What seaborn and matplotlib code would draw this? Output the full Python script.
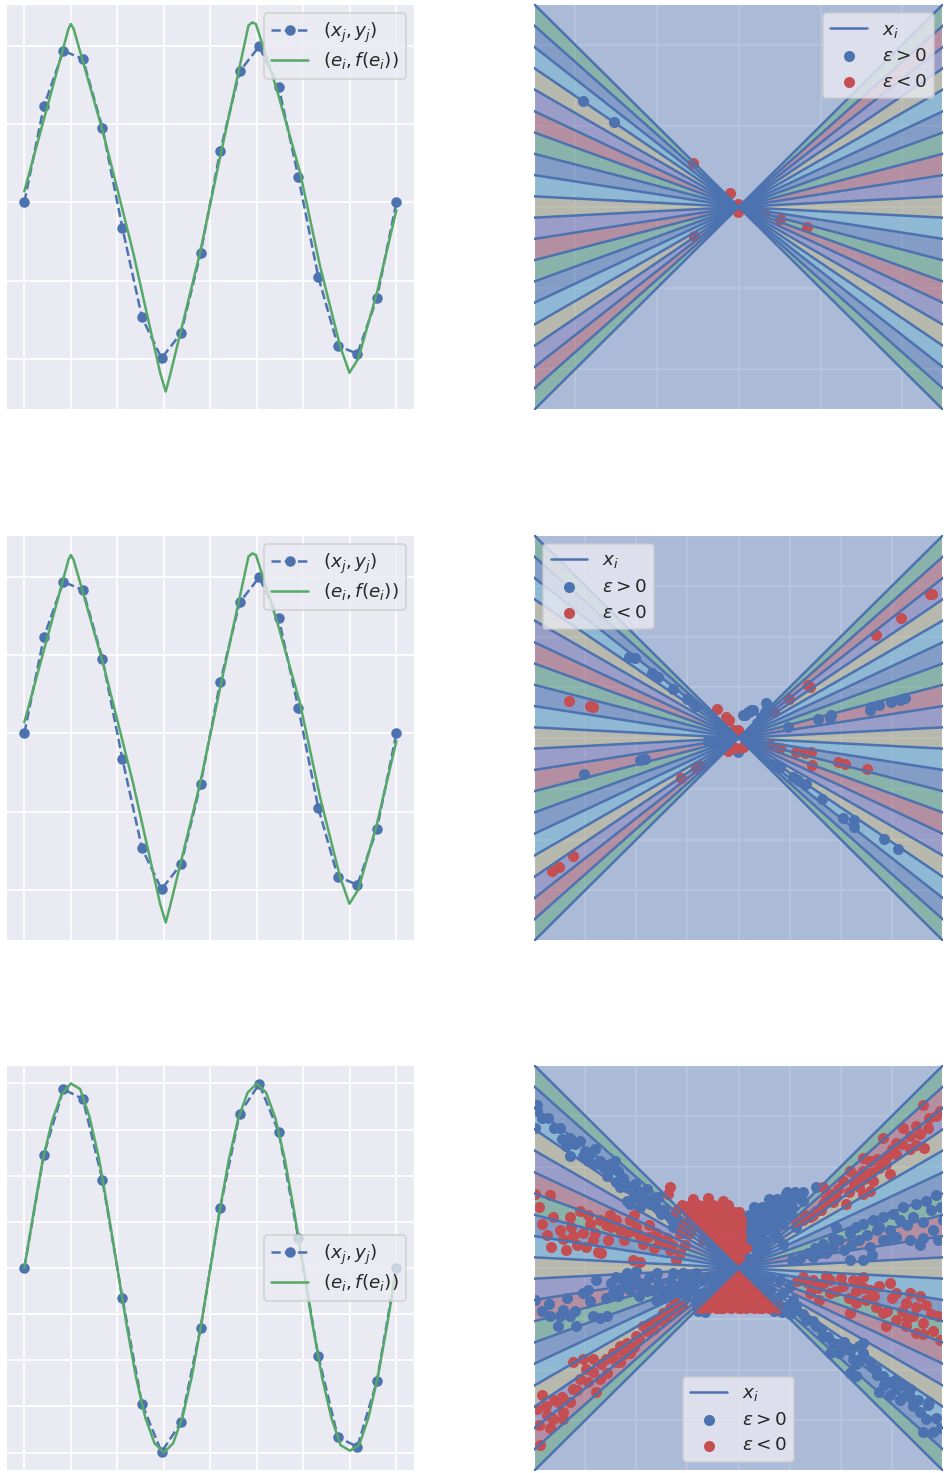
import matplotlib
matplotlib.use("Agg")
import numpy as np
import pandas as pd
import matplotlib.pyplot as plt
import seaborn as sns

sns.set_theme(style="darkgrid", context="notebook")
pal = sns.color_palette("deep6")
BLUE, GREEN, RED = pal[0], pal[1], pal[2]

# ---------------- data -----------------
# training samples (x_j, y_j)
x_samples = [0.00, 0.42, 0.84, 1.26, 1.68, 2.11, 2.53, 2.95, 3.37, 3.79,
             4.21, 4.63, 5.05, 5.47, 5.89, 6.32, 6.74, 7.16, 7.58, 8.00]
y_samples = [0.000, 0.614, 0.969, 0.916, 0.476, -0.165, -0.736, -0.997, -0.837, -0.325,
             0.325, 0.837, 0.997, 0.736, 0.165, -0.476, -0.916, -0.969, -0.614, 0.000]

# network output for the small networks (rows 1 and 2)
e_coarse = [0.00, 0.95, 1.00, 1.06, 1.70, 2.34, 2.92, 3.04, 3.13, 3.78, 4.21,
            4.82, 4.90, 4.98, 5.43, 5.93, 6.36, 6.79, 6.99, 7.18, 7.58, 8.00]
f_coarse = [0.07, 1.11, 1.14, 1.11, 0.44, -0.32, -1.09, -1.21, -1.11, -0.32, 0.29,
            1.13, 1.15, 1.14, 0.72, 0.19, -0.41, -0.92, -1.09, -1.00, -0.58, -0.05]

# network output for the wide network (row 3)
e_fine = [0.0, 0.2, 0.4, 0.6, 0.8, 1.0, 1.2, 1.4, 1.6, 1.8, 2.0, 2.2, 2.4, 2.6, 2.8,
          3.0, 3.2, 3.4, 3.6, 3.8, 4.0, 4.2, 4.4, 4.6, 4.8, 5.0, 5.2, 5.4, 5.6, 5.8,
          6.0, 6.2, 6.4, 6.6, 6.8, 7.0, 7.2, 7.4, 7.6, 7.8, 8.0]
f_fine = [0.00, 0.30, 0.59, 0.80, 0.94, 1.00, 0.97, 0.82, 0.60, 0.31, 0.00, -0.31,
          -0.59, -0.81, -0.95, -1.00, -0.95, -0.81, -0.59, -0.31, 0.00, 0.31, 0.59,
          0.81, 0.95, 1.00, 0.95, 0.81, 0.59, 0.31, 0.00, -0.31, -0.59, -0.81, -0.96,
          -0.99, -0.96, -0.81, -0.59, -0.31, 0.00]

# neuron parameters (w, b), split by sign of the output weight
pos1_w = [-1.90, -1.52]
pos1_b = [1.31, 1.05]
neg1_w = [-0.56, -0.10, -0.01, -0.01, -0.55, 0.31, 0.50, 0.83]
neg1_b = [0.54, 0.17, 0.04, -0.06, -0.36, -0.08, -0.15, -0.25]

pos2_w = [-2.14, -2.03, -1.69, -1.58, -1.28, -1.01, -0.89, -0.83, -1.93, -1.84, -3.03,
          0.54, 0.21, 0.28, 0.12, 0.96, 1.55, 1.78, 1.81, 2.56, 2.59, 2.75, 2.97, 3.16, 3.26,
          0.67, 0.80, 1.06, 1.16, 1.32, 1.63, 2.04, 2.25, 2.25, 2.85, 3.11,
          0.08, 0.18, 0.25, 0.51, 0.44, 0.35, -0.01, -0.53, -0.60, 0.77]
pos2_b = [1.60, 1.58, 1.28, 1.20, 0.97, 0.76, 0.68, 0.63, -0.44, -0.42, -0.71,
          0.68, 0.51, 0.55, 0.45, 0.22, 0.37, 0.40, 0.45, 0.55, 0.61, 0.66, 0.70, 0.74, 0.79,
          -0.53, -0.57, -0.77, -0.82, -0.91, -1.21, -1.57, -1.62, -1.75, -1.99, -2.19,
          0.45, 0.51, 0.55, 0.51, 0.42, 0.29, -0.27, -0.10, -0.05, -0.57]
neg2_w = [-3.32, -2.91, -2.85, -0.42, -0.24, -0.18, -1.12, -0.83, -0.76, -3.24, -3.51, -3.64,
          3.74, 3.78, 3.18, 2.69, 1.35, 1.39, 0.98, 0.70, 0.80, 0.61, 1.13, 1.29, 1.42,
          1.44, 1.94, 2.07, 2.51, 0.08, -0.11, -0.01, 0.02, -0.18, -0.05, 0.08, 0.15, -0.21]
neg2_b = [0.72, 0.63, 0.61, 0.57, 0.42, 0.35, -0.79, -0.59, -0.55, -2.33, -2.55, -2.63,
          2.83, 2.84, 2.37, 2.03, 1.04, 1.00, 0.76, 0.51, -0.20, -0.14, -0.27, -0.29, -0.27,
          -0.53, -0.47, -0.51, -0.61, -0.17, 0.16, 0.16, 0.08, -0.18, -0.20, -0.18, -0.10, -0.25]

# wide network: arms of the bow-tie
pos3_w = [-3.95, -3.72, -3.98, -3.95, -3.37, -3.11, -3.01, -2.94, -2.81, -2.71, -2.52, -2.36,
          -2.58, -2.32, -2.19, -2.03, -1.93, -1.80, -1.74, -1.58, -1.61, -1.51, -1.35, -1.22,
          -1.28, -1.09, -1.93, -2.13, -3.30, -3.50, -2.42, -2.26, -2.00,
          -3.98, -3.69, -3.53, -3.43, -3.17, -3.04, -2.94, -2.78, -2.71, -2.58, -2.39, -2.26,
          -2.13, -2.00, -1.84, -1.67, -1.61, -1.48, -1.35, -1.28, -1.15, -1.02, -0.96, -0.83,
          -0.70, -0.63, -3.30, -2.45, -2.19, -1.93, -1.09, -0.83,
          0.21, 0.41, 0.54, 0.67, 0.87, 0.93, 1.13, 1.00, 0.80, 0.61, 0.48, 0.35, 0.15, 0.28,
          0.48, 0.67, 0.87, 1.06, 0.74, 0.54, 0.35, 0.15, 1.52, 1.26, 1.13, 0.87,
          -1.28, -1.09, -0.89, -0.70, -0.57, -0.83, -1.02, -1.15, -0.70, -0.50, -0.37, -0.57,
          0.61, 0.80, 1.00, 0.87, 1.06, 0.74, 0.93, 1.13, 0.61, 0.48,
          3.86, 3.67, 3.47, 3.21, 3.01, 2.82, 2.62, 2.43, 2.95, 3.08, 3.34, 3.54, 3.80, 2.82,
          2.56, 2.36, 2.17, 1.97, 1.84, 1.65, 1.58, 1.45, 2.43, 2.17, 3.41, 3.99, 2.75, 1.91,
          1.13, 1.32, 1.52, 1.65, 1.84, 1.97, 2.10, 2.23, 2.36, 2.43, 2.56, 2.69, 2.82, 2.95,
          3.08, 3.27, 3.41, 3.54, 3.67, 3.80, 3.60, 2.17, 2.30, 2.75, 2.95, 3.34, 2.43, 1.78, 3.73]
pos3_b = [3.09, 2.96, 2.76, 3.22, 2.40, 2.50, 2.30, 2.11, 2.34, 2.11, 2.04, 1.91,
          1.82, 1.59, 1.33, 1.65, 1.49, 1.56, 1.26, 1.39, 1.20, 1.07, 1.00, 0.94,
          0.81, 0.68, 1.20, 1.26, 2.57, 2.76, 2.11, 1.78, 1.39,
          -0.63, -0.95, -1.15, -0.82, -1.15, -0.49, -0.43, -0.23, -0.98, -0.95, -0.17, -0.23,
          -0.43, -0.23, -0.30, -0.43, -0.63, -0.49, -0.43, -0.63, -0.49, -0.36, -0.17, -0.10,
          -0.76, -0.49, -0.95, -0.49, -0.10, -0.36, -0.10, -0.49,
          0.87, 1.00, 1.13, 1.20, 1.33, 1.46, 1.46, 1.20, 1.07, 0.94, 0.81, 0.68, 0.55, 0.42,
          0.55, 0.74, 0.87, 1.00, 0.61, 0.35, 0.22, 0.22, 1.59, 1.33, 0.81, 0.48,
          -0.10, -0.23, -0.36, -0.49, -0.63, -0.69, -0.56, -0.43, -0.23, -0.36, -0.49, -0.17,
          -0.17, -0.23, -0.36, -0.49, -0.63, -0.63, -0.76, -0.82, -0.43, -0.30,
          1.43, 1.33, 1.26, 1.20, 1.07, 1.00, 0.94, 0.87, 0.74, 0.61, 0.55, 0.45, 0.74, 0.55,
          0.42, 0.55, 0.68, 0.55, 0.42, 0.48, 0.29, 0.22, 0.16, 0.16, 1.00, 0.94, 0.81, 0.81,
          -0.76, -1.02, -1.15, -1.34, -1.47, -1.67, -1.60, -1.80, -1.54, -1.67, -1.86, -1.99,
          -2.12, -2.25, -2.38, -2.51, -2.71, -2.84, -2.97, -3.23, -3.23, -2.06, -2.12, -2.45,
          -2.51, -2.38, -1.47, -1.67, -2.64]
neg3_w = [-3.98, -3.69, -3.85, -3.63, -3.37, -3.66, -3.43, -3.24, -3.11, -2.91, -2.81, -2.98,
          -2.75, -2.52, -2.49, -2.32, -2.13, -2.00, -1.87, -1.77, -2.06, -1.93, -1.61, -1.48,
          -1.35, -1.22, -1.35, -1.38, -3.27, -3.04, -2.71,
          -3.95, -3.85, -3.76, -3.63, -3.53, -3.43, -3.24, -3.11, -3.04, -3.24, -2.98, -2.85,
          -2.71, -2.58, -2.45, -2.32, -2.19, -2.13, -2.00, -1.87, -1.74, -1.61, -1.48, -1.35,
          -1.22, -3.89, -3.69, -3.43, -2.78, -2.32,
          -1.22, -1.02, -0.83, -0.70, -0.53, -0.44, -0.24, -0.11, -0.96, -0.76, -0.57, -0.37,
          -0.18, -0.44, -0.24, -0.05, -0.70, -0.89, -0.18, -0.05, 0.02, -0.18, -0.31, -0.53,
          -1.09, -1.15, -0.96, -0.70, -0.44, -0.11,
          -0.57, -0.37, -0.18, 0.02, 0.21, 0.41, 0.61, -0.44, -0.24, -0.05, 0.15, 0.35, 0.54,
          -0.31, -0.11, 0.08, 0.28, -0.18, 0.02, 0.18, -0.01, -0.70, 0.74,
          2.82, 3.08, 3.47, 3.63, 3.34, 3.73, 3.93, 3.47, 2.43, 2.56, 2.75, 2.88, 2.17, 2.30,
          2.04, 1.78, 1.91, 2.10, 1.65, 1.52, 1.39, 1.26, 2.36, 2.43, 2.62, 2.56, 1.65, 3.21,
          3.08, 2.43, 3.60,
          1.26, 1.45, 1.65, 1.78, 2.04, 2.23, 2.36, 2.56, 2.75, 2.95, 3.08, 3.27, 3.47, 3.67,
          3.41, 3.60, 2.82, 2.69, 2.49, 2.30, 2.17, 2.88, 3.08, 3.27, 3.47, 1.78, 1.58, 1.39,
          3.93, 2.43]
neg3_b = [1.46, 1.43, 0.87, 1.00, 0.35, 0.42, 0.58, 0.64, 1.13, 0.87, 0.68, 0.42,
          0.32, 1.04, 0.81, 0.74, 0.94, 0.81, 0.48, 0.61, 0.16, 0.12, 0.68, 0.48,
          0.35, 0.16, 1.59, 1.46, 0.81, 0.68, 0.94,
          -2.77, -2.51, -2.71, -2.97, -2.64, -2.84, -2.38, -2.19, -1.80, -1.86, -1.99, -1.80,
          -2.19, -2.06, -1.67, -1.86, -1.47, -1.67, -1.34, -1.15, -1.08, -1.02, -0.89, -0.79,
          -0.69, -3.49, -3.16, -2.97, -2.45, -1.54,
          1.13, 1.17, 1.20, 1.10, 1.13, 1.00, 0.94, 0.81, 1.00, 0.94, 0.87, 0.81,
          0.68, 0.61, 0.48, 0.42, 0.74, 0.81, 1.00, 0.22, 0.16, 0.16, 0.29, 0.42,
          0.87, 0.68, 0.68, 0.55, 0.22, 0.03,
          -0.76, -0.79, -0.76, -0.79, -0.76, -0.79, -0.76, -0.56, -0.59, -0.56, -0.59, -0.56, -0.53,
          -0.36, -0.40, -0.36, -0.36, -0.17, -0.20, -0.17, -0.04, -0.72, -0.72,
          2.57, 2.47, 2.43, 2.37, 2.34, 2.96, 3.09, 2.79, 2.17, 2.11, 1.98, 2.04, 1.91, 1.82,
          1.72, 1.46, 1.39, 1.26, 1.26, 1.13, 1.00, 0.94, 1.59, 1.46, 1.72, 1.52, 1.59, 2.76,
          2.24, 1.91, 3.22,
          -0.17, -0.23, -0.30, -0.23, -0.36, -0.23, -0.30, -0.43, -0.36, -0.30, -0.49, -0.69,
          -0.76, -0.72, -0.95, -1.08, -0.89, -0.76, -0.63, -0.69, -0.89, -1.15, -1.02, -1.15,
          -1.28, -0.49, -0.63, -0.49, -1.41, -0.17]

# wide network: further neurons as (w, b) pairs
pos3_more = [
    (-3.85, 2.95), (-3.60, 2.75), (-3.45, 2.55), (-3.20, 2.45), (-3.05, 2.20), (-2.90, 2.25),
    (-2.65, 2.00), (-2.45, 1.95), (-2.40, 1.70), (-2.20, 1.60), (-2.05, 1.45), (-1.90, 1.35),
    (-1.70, 1.35), (-1.55, 1.15), (-1.45, 1.15), (-1.30, 0.95), (-1.15, 0.85), (-1.00, 0.75),
    (-3.30, 2.20), (-2.80, 2.05),
    (-3.85, -0.85), (-3.70, -0.70), (-3.50, -0.95), (-3.35, -0.60), (-3.20, -0.85),
    (-2.90, -0.65), (-2.85, -0.95), (-2.60, -0.60), (-2.50, -0.30), (-2.35, -0.55),
    (-2.10, -0.25), (-1.95, -0.55), (-1.80, -0.45), (-1.75, -0.20), (-1.55, -0.30),
    (-1.45, -0.60), (-1.35, -0.25), (-1.20, -0.35), (-1.05, -0.20), (-0.90, -0.25),
    (-2.30, -0.40), (-2.00, -0.05), (-1.60, -0.10),
    (3.95, 1.20), (3.75, 1.15), (3.60, 0.90), (3.30, 0.85), (3.15, 0.95), (2.90, 0.55),
    (2.70, 0.75), (2.50, 0.65), (2.30, 0.80), (2.20, 0.45), (2.05, 0.35), (1.85, 0.60),
    (1.70, 0.30), (1.50, 0.40), (1.35, 0.30), (1.20, 0.20), (3.60, 0.60), (3.90, 0.55),
    (2.60, 0.25), (1.05, 0.15),
    (3.95, -3.15), (3.85, -2.95), (3.70, -2.70), (3.50, -2.60), (3.35, -2.55), (3.20, -2.30),
    (3.05, -2.20), (2.85, -2.30), (2.70, -2.10), (2.60, -1.95), (2.40, -1.80), (2.20, -1.60),
    (2.05, -1.45), (1.95, -1.50), (1.75, -1.35), (1.60, -1.20), (1.45, -1.05), (1.25, -0.90),
    (2.30, -1.90), (3.15, -2.60),
    # dense centre, upper-right part
    (0.95, 1.50), (1.10, 1.50), (1.25, 1.50),
    (0.60, 1.35), (0.75, 1.35), (0.90, 1.35), (1.05, 1.35), (1.20, 1.35),
    (0.30, 1.20), (0.45, 1.20), (0.60, 1.20), (0.75, 1.20), (0.90, 1.20), (1.05, 1.20),
    (0.20, 1.05), (0.35, 1.05), (0.50, 1.05), (0.65, 1.05), (0.80, 1.05), (0.95, 1.05),
    (0.15, 0.90), (0.30, 0.90), (0.45, 0.90), (0.60, 0.90), (0.75, 0.90),
    (0.15, 0.75), (0.30, 0.75), (0.45, 0.75), (0.60, 0.75),
    (0.15, 0.60), (0.30, 0.60), (0.45, 0.60), (0.15, 0.45), (0.30, 0.45),
    (-0.80, -0.85), (-0.65, -0.87), (0.85, -0.86), (1.00, -0.90), (0.70, -0.85),
]
neg3_more = [
    (-3.90, 1.20), (-3.75, 0.65), (-3.50, 0.75), (-3.30, 1.00), (-3.15, 0.45), (-2.95, 1.05),
    (-2.85, 0.55), (-2.60, 0.85), (-2.55, 0.55), (-2.40, 0.95), (-2.25, 0.55), (-2.15, 0.70),
    (-1.95, 0.65), (-1.75, 0.85), (-1.65, 0.40), (-1.55, 0.55), (-1.40, 0.60), (-1.30, 0.45),
    (-1.15, 0.30), (-1.05, 0.45), (-2.05, 1.05), (-2.70, 0.30),
    (-3.90, -3.10), (-3.75, -2.90), (-3.60, -2.60), (-3.45, -2.55), (-3.30, -2.65),
    (-3.15, -2.40), (-2.95, -2.25), (-2.85, -2.05), (-2.70, -1.90), (-2.60, -1.80),
    (-2.40, -1.85), (-2.25, -1.70), (-2.05, -1.55), (-1.95, -1.40), (-1.80, -1.25),
    (-1.65, -1.20), (-1.50, -1.05), (-1.40, -0.95), (-1.25, -0.85), (-1.10, -0.75),
    (3.85, 3.00), (3.70, 2.75), (3.55, 2.65), (3.35, 2.60), (3.20, 2.45), (3.00, 2.35),
    (2.90, 2.20), (2.70, 2.15), (2.60, 1.90), (2.45, 1.75), (2.25, 1.65), (2.15, 1.50),
    (1.95, 1.55), (1.85, 1.30), (1.70, 1.35), (1.60, 1.15), (1.45, 1.05), (1.30, 1.05),
    (1.15, 0.90), (2.95, 1.85),
    (3.90, -0.95), (3.75, -0.90), (3.55, -0.55), (3.35, -0.50), (3.20, -0.85), (3.00, -0.60),
    (2.90, -0.85), (2.65, -0.55), (2.45, -0.40), (2.30, -0.45), (2.15, -0.60), (2.00, -0.20),
    (1.90, -0.45), (1.70, -0.15), (1.55, -0.40), (1.35, -0.30), (1.15, -0.25), (3.80, -1.25),
    (3.60, -1.30), (3.30, -1.00),
    # dense centre, upper-left part
    (-1.10, 1.25), (-0.95, 1.25), (-0.80, 1.25), (-0.65, 1.25), (-0.50, 1.25), (-0.35, 1.25),
    (-0.20, 1.25), (-1.00, 1.10), (-0.85, 1.10), (-0.70, 1.10), (-0.55, 1.10), (-0.40, 1.10),
    (-0.25, 1.10), (-0.10, 1.10), (0.00, 1.10), (-0.85, 0.95), (-0.70, 0.95), (-0.55, 0.95),
    (-0.40, 0.95), (-0.25, 0.95), (-0.10, 0.95), (0.05, 0.95), (-0.70, 0.80), (-0.55, 0.80),
    (-0.40, 0.80), (-0.25, 0.80), (-0.10, 0.80), (0.05, 0.80), (-0.55, 0.65), (-0.40, 0.65),
    (-0.25, 0.65), (-0.10, 0.65), (0.05, 0.65), (-0.40, 0.50), (-0.25, 0.50), (-0.10, 0.50),
    (0.05, 0.50), (0.15, 0.40), (-0.25, 0.35), (-0.10, 0.35), (0.05, 0.35), (-0.10, 0.20),
    (0.00, 0.20), (-0.90, 1.35), (-0.60, 1.38), (-0.30, 1.33),
    # dense centre, lower wedge
    (-0.75, -0.78), (-0.60, -0.78), (-0.45, -0.78), (-0.30, -0.78), (-0.15, -0.78),
    (0.00, -0.78), (0.15, -0.78), (0.30, -0.78), (0.45, -0.78), (0.60, -0.78), (0.75, -0.78),
    (-0.60, -0.63), (-0.45, -0.63), (-0.30, -0.63), (-0.15, -0.63), (0.00, -0.63),
    (0.15, -0.63), (0.30, -0.63), (0.45, -0.63), (0.60, -0.63),
    (-0.45, -0.48), (-0.30, -0.48), (-0.15, -0.48), (0.00, -0.48), (0.15, -0.48),
    (0.30, -0.48), (0.45, -0.48), (-0.30, -0.33), (-0.15, -0.33), (0.00, -0.33),
    (0.15, -0.33), (0.30, -0.33), (-0.15, -0.18), (0.00, -0.18), (0.15, -0.18),
]

# ---------------- figure -----------------
DPI = 120
fig = plt.figure(figsize=(950 / DPI, 1473 / DPI), dpi=DPI)

W, H = 950.0, 1473.0
left_x, right_x = 5.7, 534.0
col_w = 409.3
row_tops = [4.0, 535.0, 1065.0]
row_h = 406.0
DOT = 44


def make_ax(px, top):
    return fig.add_axes([px / W, 1 - (top + row_h) / H, col_w / W, row_h / H])


def draw_fit(ax, e, f, yticks, loc):
    samples = pd.DataFrame({"x": x_samples, "y": y_samples})
    net = pd.DataFrame({"e": e, "f": f})
    sns.lineplot(data=samples, x="x", y="y", ax=ax, color=BLUE, linestyle="--",
                 marker="o", markersize=6.3, markeredgewidth=0, sort=False,
                 label=r"$(x_j, y_j)$")
    sns.lineplot(data=net, x="e", y="f", ax=ax, color=GREEN, sort=False,
                 label=r"$(e_i, f(e_i))$")
    ax.set_xticks(range(0, 9))
    ax.set_yticks(yticks)
    ax.set_xticklabels([])
    ax.set_yticklabels([])
    ax.set_xlabel("")
    ax.set_ylabel("")
    ax.legend(loc=loc, fontsize=11, labelspacing=0.3)


def draw_neurons(ax, lim, ticks, pw, pb, nw, nb, loc):
    xs = np.array([-lim, 0.0, lim])
    ax.fill_between(xs, -lim, lim, color=BLUE, alpha=0.4, lw=0, zorder=1)
    slopes = [-(x - 4.0) / 4.0 for x in x_samples]
    for j in range(len(slopes) - 1):
        ax.fill_between(xs, slopes[j] * xs, slopes[j + 1] * xs,
                        color=pal[(j + 1) % 6], alpha=0.4, lw=0, zorder=1.2)
    sns.scatterplot(x=pw, y=pb, ax=ax, color=BLUE, s=DOT, linewidth=0, zorder=2,
                    label=r"$\varepsilon > 0$", legend=False)
    sns.scatterplot(x=nw, y=nb, ax=ax, color=RED, s=DOT, linewidth=0, zorder=2,
                    label=r"$\varepsilon < 0$", legend=False)
    for j, s in enumerate(slopes):
        ax.plot(xs, s * xs, color=BLUE, lw=1.5, zorder=3,
                label=r"$x_i$" if j == 0 else None)
    ax.set_xlim(-lim, lim)
    ax.set_ylim(-lim, lim)
    ax.set_xticks(ticks)
    ax.set_yticks(ticks)
    ax.set_xticklabels([])
    ax.set_yticklabels([])
    handles, labels = ax.get_legend_handles_labels()
    order = [labels.index(r"$x_i$"), labels.index(r"$\varepsilon > 0$"),
             labels.index(r"$\varepsilon < 0$")]
    ax.legend([handles[i] for i in order], [labels[i] for i in order],
              loc=loc, fontsize=11, labelspacing=0.42)


ax = make_ax(left_x, row_tops[0])
draw_fit(ax, e_coarse, f_coarse, [-1, -0.5, 0, 0.5, 1], "upper right")
ax = make_ax(left_x, row_tops[1])
draw_fit(ax, e_coarse, f_coarse, [-1, -0.5, 0, 0.5, 1], "upper right")
ax = make_ax(left_x, row_tops[2])
draw_fit(ax, e_fine, f_fine, [-1, -0.75, -0.5, -0.25, 0, 0.25, 0.5, 0.75, 1], "center right")

ax = make_ax(right_x, row_tops[0])
draw_neurons(ax, 2.5, [-2, -1, 0, 1, 2], pos1_w, pos1_b, neg1_w, neg1_b, "upper right")
ax = make_ax(right_x, row_tops[1])
draw_neurons(ax, 4.0, [-3, -2, -1, 0, 1, 2, 3], pos2_w, pos2_b, neg2_w, neg2_b, "upper left")

pw3 = pos3_w + [p[0] for p in pos3_more]
pb3 = pos3_b + [p[1] for p in pos3_more]
nw3 = neg3_w + [p[0] for p in neg3_more]
nb3 = neg3_b + [p[1] for p in neg3_more]
ax = make_ax(right_x, row_tops[2])
draw_neurons(ax, 4.0, [-3, -2, -1, 0, 1, 2, 3], pw3, pb3, nw3, nb3, "lower center")

fig.savefig("out.png", dpi=DPI)
